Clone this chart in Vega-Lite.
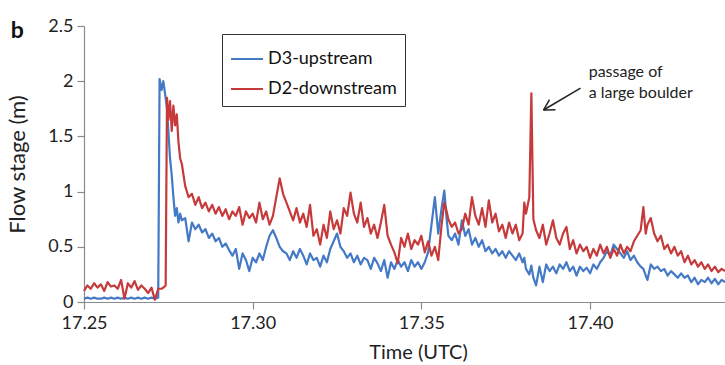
{
  "$schema": "https://vega.github.io/schema/vega-lite/v6.json",
  "width": 641,
  "height": 276,
  "autosize": {"type": "none"},
  "padding": {"left": 84, "top": 26, "right": 0, "bottom": 63},
  "background": "white",
  "config": {
    "view": {"stroke": null},
    "font": "Lato",
    "axis": {"grid": false, "domainColor": "#8a8a8a", "tickColor": "#8a8a8a", "labelColor": "#222", "titleColor": "#222", "labelFont": "Lato", "titleFont": "Lato", "labelFontSize": 18, "titleFontSize": 20, "titleFontWeight": "normal", "tickSize": 7, "domainWidth": 1.2, "tickWidth": 1.2, "labelFlush": false}
  },
  "title": {"text": "b", "anchor": "start", "frame": "bounds", "fontSize": 23, "fontWeight": "bold", "font": "Lato", "color": "#111", "offset": 0, "dy": 26, "dx": 4},
  "datasets": {
    "flow": [
      {"t":17.250,"u":0.03,"d":0.10},{"t":17.251,"u":0.04,"d":0.15},{"t":17.252,"u":0.03,"d":0.12},{"t":17.253,"u":0.04,"d":0.17},
      {"t":17.254,"u":0.03,"d":0.13},{"t":17.255,"u":0.03,"d":0.16},{"t":17.256,"u":0.04,"d":0.10},{"t":17.257,"u":0.03,"d":0.18},
      {"t":17.258,"u":0.04,"d":0.14},{"t":17.259,"u":0.03,"d":0.15},{"t":17.260,"u":0.04,"d":0.12},{"t":17.261,"u":0.03,"d":0.20},
      {"t":17.262,"u":0.04,"d":0.03},{"t":17.263,"u":0.03,"d":0.17},{"t":17.264,"u":0.04,"d":0.13},{"t":17.265,"u":0.03,"d":0.19},
      {"t":17.266,"u":0.04,"d":0.11},{"t":17.267,"u":0.03,"d":0.15},{"t":17.268,"u":0.04,"d":0.12},{"t":17.269,"u":0.03,"d":0.08},
      {"t":17.270,"u":0.04,"d":0.13},{"t":17.271,"u":0.03,"d":0.02},{"t":17.272,"u":0.04,"d":0.12},{"t":17.2724,"u":2.02,"d":0.12},
      {"t":17.273,"u":1.92,"d":0.12},{"t":17.2735,"u":2.0,"d":0.13},{"t":17.2742,"u":1.85,"d":0.15},{"t":17.2746,"u":1.75,"d":1.85},
      {"t":17.275,"u":1.55,"d":1.65},{"t":17.2755,"u":1.3,"d":1.82},{"t":17.276,"u":1.15,"d":1.55},{"t":17.2765,"u":0.95,"d":1.78},
      {"t":17.277,"u":0.78,"d":1.6},{"t":17.2775,"u":0.85,"d":1.7},{"t":17.278,"u":0.72,"d":1.45},{"t":17.2785,"u":0.8,"d":1.3},
      {"t":17.279,"u":0.74,"d":1.25},{"t":17.280,"u":0.76,"d":1.05},{"t":17.281,"u":0.55,"d":0.95},{"t":17.282,"u":0.72,"d":0.98},
      {"t":17.283,"u":0.66,"d":0.88},{"t":17.284,"u":0.70,"d":0.95},{"t":17.285,"u":0.63,"d":0.85},{"t":17.286,"u":0.66,"d":0.90},
      {"t":17.287,"u":0.58,"d":0.82},{"t":17.288,"u":0.62,"d":0.88},{"t":17.289,"u":0.55,"d":0.80},{"t":17.290,"u":0.58,"d":0.86},
      {"t":17.291,"u":0.50,"d":0.78},{"t":17.292,"u":0.53,"d":0.84},{"t":17.293,"u":0.47,"d":0.75},{"t":17.294,"u":0.42,"d":0.82},
      {"t":17.295,"u":0.48,"d":0.78},{"t":17.296,"u":0.30,"d":0.86},{"t":17.297,"u":0.44,"d":0.70},{"t":17.298,"u":0.38,"d":0.82},
      {"t":17.299,"u":0.28,"d":0.76},{"t":17.300,"u":0.40,"d":0.80},{"t":17.301,"u":0.36,"d":0.72},{"t":17.302,"u":0.44,"d":0.90},
      {"t":17.303,"u":0.38,"d":0.75},{"t":17.304,"u":0.50,"d":0.82},{"t":17.305,"u":0.60,"d":0.70},{"t":17.306,"u":0.65,"d":0.78},
      {"t":17.307,"u":0.58,"d":0.95},{"t":17.308,"u":0.50,"d":1.12},{"t":17.309,"u":0.46,"d":0.98},{"t":17.310,"u":0.44,"d":0.90},
      {"t":17.311,"u":0.38,"d":0.82},{"t":17.312,"u":0.46,"d":0.74},{"t":17.313,"u":0.40,"d":0.85},{"t":17.314,"u":0.48,"d":0.72},
      {"t":17.315,"u":0.42,"d":0.80},{"t":17.316,"u":0.34,"d":0.68},{"t":17.317,"u":0.44,"d":0.88},{"t":17.318,"u":0.38,"d":0.60},
      {"t":17.319,"u":0.40,"d":0.66},{"t":17.320,"u":0.32,"d":0.52},{"t":17.321,"u":0.42,"d":0.70},{"t":17.322,"u":0.36,"d":0.58},
      {"t":17.323,"u":0.48,"d":0.82},{"t":17.324,"u":0.55,"d":0.66},{"t":17.325,"u":0.62,"d":0.74},{"t":17.326,"u":0.50,"d":0.62},
      {"t":17.327,"u":0.46,"d":0.85},{"t":17.328,"u":0.40,"d":0.78},{"t":17.329,"u":0.44,"d":0.99},{"t":17.330,"u":0.36,"d":0.80},
      {"t":17.331,"u":0.42,"d":0.72},{"t":17.332,"u":0.34,"d":0.90},{"t":17.333,"u":0.40,"d":0.68},{"t":17.334,"u":0.38,"d":0.76},
      {"t":17.335,"u":0.30,"d":0.62},{"t":17.336,"u":0.40,"d":0.70},{"t":17.337,"u":0.35,"d":0.58},{"t":17.338,"u":0.28,"d":0.72},
      {"t":17.339,"u":0.38,"d":0.88},{"t":17.340,"u":0.22,"d":0.60},{"t":17.341,"u":0.36,"d":0.52},{"t":17.342,"u":0.30,"d":0.45},
      {"t":17.343,"u":0.38,"d":0.35},{"t":17.344,"u":0.32,"d":0.58},{"t":17.345,"u":0.36,"d":0.50},{"t":17.346,"u":0.28,"d":0.62},
      {"t":17.347,"u":0.38,"d":0.48},{"t":17.348,"u":0.32,"d":0.56},{"t":17.349,"u":0.36,"d":0.52},{"t":17.350,"u":0.30,"d":0.60},
      {"t":17.351,"u":0.36,"d":0.45},{"t":17.352,"u":0.45,"d":0.55},{"t":17.353,"u":0.70,"d":0.42},{"t":17.354,"u":0.95,"d":0.50},
      {"t":17.355,"u":0.62,"d":0.38},{"t":17.356,"u":0.85,"d":0.70},{"t":17.3568,"u":1.01,"d":0.90},{"t":17.3575,"u":0.75,"d":0.82},
      {"t":17.358,"u":0.60,"d":0.75},{"t":17.359,"u":0.56,"d":0.68},{"t":17.360,"u":0.62,"d":0.72},{"t":17.361,"u":0.52,"d":0.62},
      {"t":17.362,"u":0.74,"d":0.66},{"t":17.363,"u":0.60,"d":0.80},{"t":17.364,"u":0.66,"d":0.70},{"t":17.365,"u":0.52,"d":0.95},
      {"t":17.366,"u":0.58,"d":0.78},{"t":17.367,"u":0.50,"d":0.70},{"t":17.368,"u":0.56,"d":0.85},{"t":17.369,"u":0.46,"d":0.68},
      {"t":17.370,"u":0.50,"d":0.92},{"t":17.371,"u":0.44,"d":0.72},{"t":17.372,"u":0.48,"d":0.80},{"t":17.373,"u":0.42,"d":0.64},
      {"t":17.374,"u":0.46,"d":0.70},{"t":17.375,"u":0.40,"d":0.58},{"t":17.376,"u":0.46,"d":0.72},{"t":17.377,"u":0.42,"d":0.62},
      {"t":17.378,"u":0.38,"d":0.70},{"t":17.379,"u":0.44,"d":0.56},{"t":17.380,"u":0.36,"d":0.62},{"t":17.3805,"u":0.40,"d":0.90},
      {"t":17.381,"u":0.30,"d":0.80},{"t":17.382,"u":0.25,"d":0.95},{"t":17.3826,"u":0.33,"d":1.89},{"t":17.3832,"u":0.22,"d":0.75},
      {"t":17.384,"u":0.15,"d":0.65},{"t":17.385,"u":0.32,"d":0.58},{"t":17.386,"u":0.18,"d":0.70},{"t":17.387,"u":0.34,"d":0.52},
      {"t":17.388,"u":0.28,"d":0.62},{"t":17.389,"u":0.32,"d":0.74},{"t":17.390,"u":0.26,"d":0.58},{"t":17.391,"u":0.34,"d":0.52},
      {"t":17.392,"u":0.30,"d":0.62},{"t":17.393,"u":0.36,"d":0.68},{"t":17.394,"u":0.28,"d":0.48},{"t":17.395,"u":0.32,"d":0.56},
      {"t":17.396,"u":0.24,"d":0.44},{"t":17.397,"u":0.32,"d":0.52},{"t":17.398,"u":0.28,"d":0.46},{"t":17.399,"u":0.31,"d":0.50},
      {"t":17.400,"u":0.26,"d":0.40},{"t":17.401,"u":0.34,"d":0.48},{"t":17.402,"u":0.30,"d":0.42},{"t":17.403,"u":0.36,"d":0.52},
      {"t":17.404,"u":0.40,"d":0.44},{"t":17.405,"u":0.46,"d":0.50},{"t":17.406,"u":0.42,"d":0.40},{"t":17.407,"u":0.52,"d":0.48},
      {"t":17.408,"u":0.48,"d":0.42},{"t":17.409,"u":0.44,"d":0.52},{"t":17.410,"u":0.40,"d":0.44},{"t":17.411,"u":0.46,"d":0.50},
      {"t":17.412,"u":0.38,"d":0.46},{"t":17.413,"u":0.42,"d":0.55},{"t":17.414,"u":0.36,"d":0.60},{"t":17.415,"u":0.32,"d":0.65},
      {"t":17.4158,"u":0.30,"d":0.86},{"t":17.4165,"u":0.24,"d":0.62},{"t":17.417,"u":0.20,"d":0.70},{"t":17.418,"u":0.34,"d":0.76},
      {"t":17.419,"u":0.30,"d":0.62},{"t":17.420,"u":0.32,"d":0.55},{"t":17.421,"u":0.28,"d":0.60},{"t":17.422,"u":0.30,"d":0.48},
      {"t":17.423,"u":0.24,"d":0.52},{"t":17.424,"u":0.28,"d":0.44},{"t":17.425,"u":0.25,"d":0.50},{"t":17.426,"u":0.22,"d":0.42},
      {"t":17.427,"u":0.26,"d":0.46},{"t":17.428,"u":0.22,"d":0.36},{"t":17.429,"u":0.24,"d":0.42},{"t":17.430,"u":0.18,"d":0.34},
      {"t":17.431,"u":0.22,"d":0.38},{"t":17.432,"u":0.16,"d":0.32},{"t":17.433,"u":0.20,"d":0.36},{"t":17.434,"u":0.18,"d":0.30},
      {"t":17.435,"u":0.22,"d":0.34},{"t":17.436,"u":0.17,"d":0.28},{"t":17.437,"u":0.21,"d":0.32},{"t":17.438,"u":0.16,"d":0.27},
      {"t":17.439,"u":0.20,"d":0.30},{"t":17.440,"u":0.18,"d":0.28}
    ],
    "notes": [
      {"t":17.3996,"v":2.08,"label":"passage of"},
      {"t":17.3996,"v":1.89,"label":"a large boulder"}
    ],
    "arrow": [
      {"t":17.39718,"v":1.938,"t2":17.38620,"v2":1.739},
      {"t":17.38620,"v":1.739,"t2":17.38976,"v2":1.741},
      {"t":17.38620,"v":1.739,"t2":17.38798,"v2":1.834}
    ]
  },
  "layer": [
    {
      "data": {"name": "flow"},
      "transform": [{"fold": ["u", "d"], "as": ["series", "value"]}],
      "mark": {"type": "line", "strokeWidth": 2.2, "strokeJoin": "round"},
      "encoding": {
        "x": {"field": "t", "type": "quantitative", "scale": {"domain": [17.25, 17.44], "nice": false, "zero": false},
              "axis": {"values": [17.25, 17.3, 17.35, 17.4], "format": ".2f", "title": "Time (UTC)", "labelPadding": 5, "titlePadding": 10, "titleX": 334}},
        "y": {"field": "value", "type": "quantitative", "scale": {"domain": [0, 2.5], "nice": false},
              "axis": {"values": [0, 0.5, 1, 1.5, 2, 2.5], "format": "~g", "title": "Flow stage (m)", "titleFontSize": 22, "labelPadding": 4, "titlePadding": 18}},
        "color": {"field": "series", "type": "nominal", "sort": ["u", "d"],
                  "scale": {"domain": ["u", "d"], "range": ["#4479c6", "#c63a3b"]},
                  "legend": {"title": null, "orient": "none", "legendX": 138, "legendY": 8,
                             "labelExpr": "datum.value == 'u' ? 'D3-upstream' : 'D2-downstream'",
                             "symbolType": "stroke", "symbolSize": 1024, "symbolStrokeWidth": 2,
                             "labelFont": "Lato", "labelFontSize": 18, "labelColor": "#111", "labelOffset": 4,
                             "strokeColor": "#333", "padding": 8, "rowPadding": 4}}
      }
    },
    {
      "data": {"name": "arrow"},
      "mark": {"type": "rule", "color": "#222", "strokeWidth": 1.5},
      "encoding": {
        "x": {"field": "t", "type": "quantitative"},
        "y": {"field": "v", "type": "quantitative"},
        "x2": {"field": "t2"},
        "y2": {"field": "v2"}
      }
    },
    {
      "data": {"name": "notes"},
      "mark": {"type": "text", "align": "left", "baseline": "middle", "font": "Lato", "fontSize": 16, "color": "#222"},
      "encoding": {
        "x": {"field": "t", "type": "quantitative"},
        "y": {"field": "v", "type": "quantitative"},
        "text": {"field": "label"}
      }
    }
  ]
}
